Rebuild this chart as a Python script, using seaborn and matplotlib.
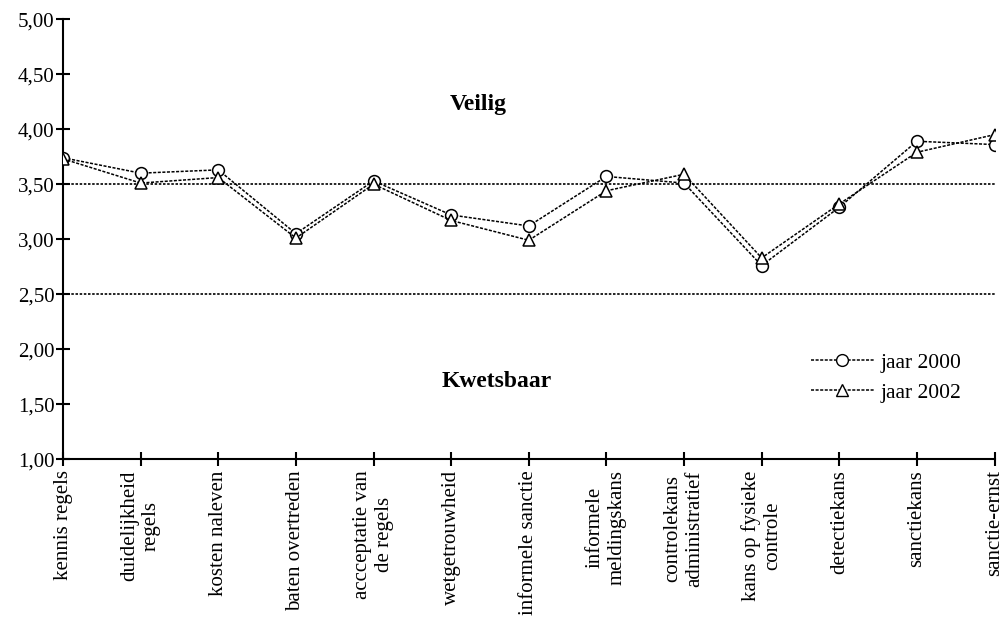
import matplotlib
matplotlib.use("Agg")
import matplotlib.pyplot as plt
import seaborn as sns
import pandas as pd
from matplotlib.ticker import FuncFormatter, MultipleLocator
from matplotlib.lines import Line2D

categories = [
    "kennis regels", "duidelijkheid\nregels", "kosten naleven", "baten overtreden",
    "accceptatie van\nde regels", "wetgetrouwheid", "informele sanctie",
    "informele\nmeldingskans", "controlekans\nadministratief", "kans op fysieke\ncontrole",
    "detectiekans", "sanctiekans", "sanctie-ernst",
]
jaar_2000 = [3.74, 3.60, 3.63, 3.05, 3.53, 3.22, 3.12, 3.57, 3.51, 2.76, 3.29, 3.89, 3.86]
jaar_2002 = [3.73, 3.51, 3.56, 3.01, 3.50, 3.17, 2.99, 3.44, 3.59, 2.83, 3.32, 3.79, 3.95]
series_names = ["jaar 2000", "jaar 2002"]
threshold_lines = [3.5, 2.5]
zone_labels = ["Veilig", "Kwetsbaar"]

sns.set_theme(style="white")
plt.rcParams["font.family"] = ["Liberation Serif", "DejaVu Serif"]
plt.rcParams["font.size"] = 15
plt.rcParams["text.color"] = "black"

df = pd.DataFrame({
    "pos": list(range(len(categories))) * 2,
    "waarde": jaar_2000 + jaar_2002,
    "jaar": [series_names[0]] * len(categories) + [series_names[1]] * len(categories),
})

fig = plt.figure(figsize=(10.07, 6.18), dpi=100)
ax = fig.add_axes([0.0626, 0.257, 0.925, 0.712])

for y in threshold_lines:
    ax.axhline(y, color="black", lw=1.2, ls=(0, (1.5, 1)), zorder=1)

markers = ["o", "^"]
for name, mk in zip(series_names, markers):
    sub = df[df["jaar"] == name]
    sns.lineplot(data=sub, x="pos", y="waarde", ax=ax, color="black", lw=1.1,
                 marker=mk, markersize=8.5, markerfacecolor="white",
                 markeredgecolor="black", markeredgewidth=1.1, zorder=3,
                 legend=False)
for line in ax.get_lines()[len(threshold_lines):]:
    line.set_linestyle((0, (2, 1)))

ax.set_xlim(0, len(categories) - 1)
ax.set_ylim(1.0, 5.0)
ax.yaxis.set_major_locator(MultipleLocator(0.5))
ax.yaxis.set_major_formatter(FuncFormatter(lambda v, p: f"{v:.2f}".replace(".", ",")))
ax.set_xticks(range(len(categories)))
ax.set_xticklabels(categories, rotation=90, ha="center", va="top", multialignment="center")
ax.set_xlabel("")
ax.set_ylabel("")

for s in ["top", "right"]:
    ax.spines[s].set_visible(False)
for s in ["left", "bottom"]:
    ax.spines[s].set_color("black")
    ax.spines[s].set_linewidth(1.5)
ax.tick_params(axis="both", bottom=True, left=True, direction="inout", length=10,
               width=1.5, color="black", labelsize=15, labelcolor="black")
ax.tick_params(axis="y", pad=1)
ax.tick_params(axis="x", pad=3)

ax.text(0.446, 0.805, zone_labels[0], transform=ax.transAxes, ha="center", va="center",
        fontsize=17, fontweight="bold", color="black")
ax.text(0.466, 0.177, zone_labels[1], transform=ax.transAxes, ha="center", va="center",
        fontsize=17, fontweight="bold", color="black")

handles = [Line2D([], [], color="black", lw=1.1, ls=(0, (2, 1)), marker=mk, markersize=8.5,
                  markerfacecolor="white", markeredgecolor="black")
           for mk in markers]
fig.legend(handles, series_names, loc="upper left", bbox_to_anchor=(0.797, 0.443),
           frameon=False, handlelength=2.9, handletextpad=0.3, labelspacing=0.45,
           fontsize=15.5, borderaxespad=0, labelcolor="black")

fig.savefig("out.png", dpi=100, facecolor="white")
